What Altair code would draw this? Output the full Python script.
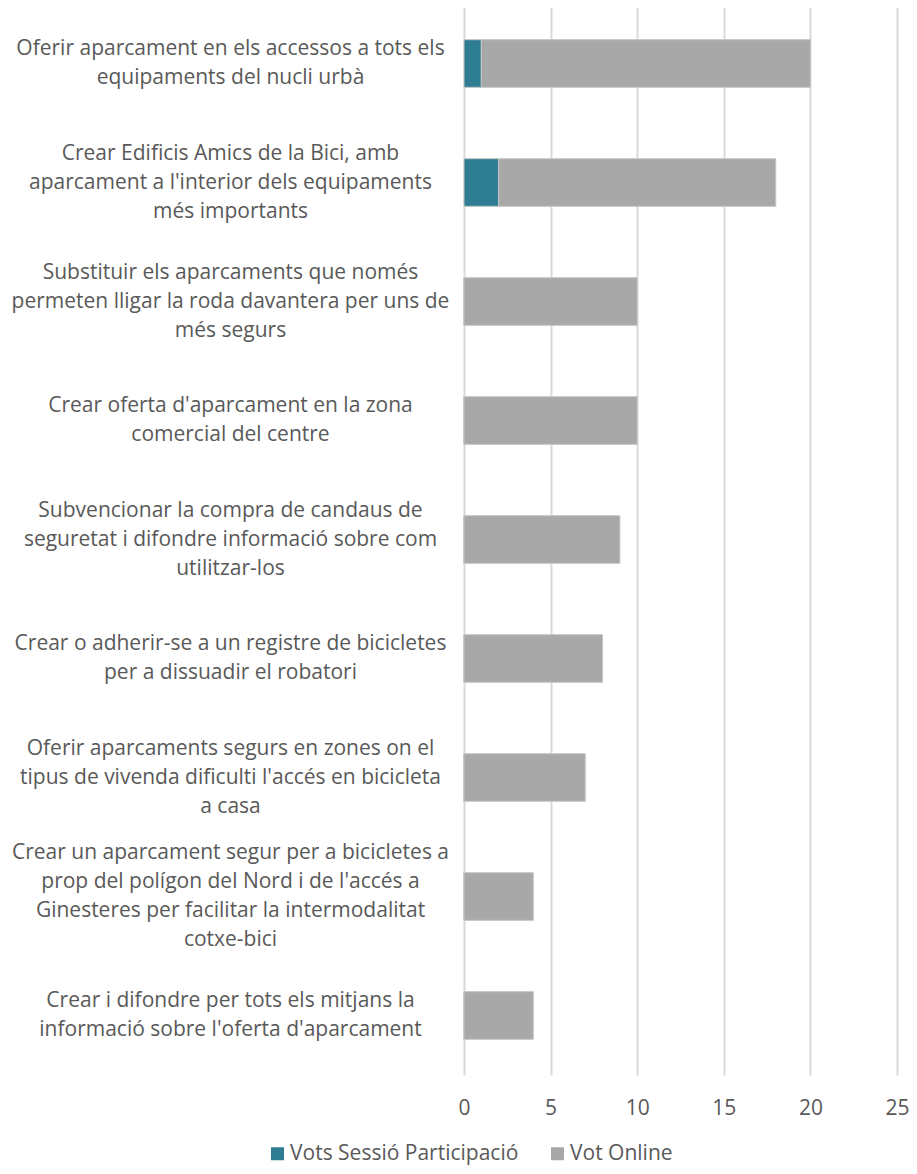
import altair as alt
import pandas as pd

categories = [
    "Oferir aparcament en els accessos a tots els|equipaments del nucli urbà",
    "Crear Edificis Amics de la Bici, amb|aparcament a l'interior dels equipaments|més importants",
    "Substituir els aparcaments que només|permeten lligar la roda davantera per uns de|més segurs",
    "Crear oferta d'aparcament en la zona|comercial del centre",
    "Subvencionar la compra de candaus de|seguretat i difondre informació sobre com|utilitzar-los",
    "Crear o adherir-se a un registre de bicicletes|per a dissuadir el robatori",
    "Oferir aparcaments segurs en zones on el|tipus de vivenda dificulti l'accés en bicicleta|a casa",
    "Crear un aparcament segur per a bicicletes a|prop del polígon del Nord i de l'accés a|Ginesteres per facilitar la intermodalitat|cotxe-bici",
    "Crear i difondre per tots els mitjans la|informació sobre l'oferta d'aparcament",
]
vots_sessio = [1, 2, 0, 0, 0, 0, 0, 0, 0]
vot_online = [19, 16, 10, 10, 9, 8, 7, 4, 4]
series = ["Vots Sessió Participació", "Vot Online"]
colors = ["#2E7D92", "#A8A8A8"]
x_ticks = [0, 5, 10, 15, 20, 25]

rows = []
for c, s, o in zip(categories, vots_sessio, vot_online):
    rows.append({"cat": c, "serie": series[0], "value": s, "ord": 0})
    rows.append({"cat": c, "serie": series[1], "value": o, "ord": 1})
df = pd.DataFrame(rows)

FONT = "Open Sans"
TXT = "#595959"
FS = 21
LH = 29
nlines = "length(split(datum.label, '|'))"

label_offset = {
    "condition": [
        {"test": f"{nlines} == 2", "value": -LH / 2},
        {"test": f"{nlines} == 3", "value": -LH},
        {"test": f"{nlines} == 4", "value": -1.5 * LH},
    ],
    "value": 0,
}

chart = alt.Chart(df).mark_bar(stroke="#C4C4C4", strokeWidth=1).encode(
    y=alt.Y("cat:N", sort=categories, title=None,
            scale=alt.Scale(paddingInner=0.6, paddingOuter=0.3),
            axis=alt.Axis(domain=False, ticks=False, tickSize=0, grid=False,
                          labelExpr="split(datum.label, '|')",
                          labelAlign="center", labelBaseline="middle",
                          labelOffset=label_offset,
                          labelPadding=234, labelLineHeight=LH,
                          labelFont=FONT, labelFontSize=FS, labelColor=TXT,
                          labelLimit=0)),
    x=alt.X("value:Q", stack="zero", title=None,
            scale=alt.Scale(domain=[0, 25], nice=False),
            axis=alt.Axis(values=x_ticks, domain=False, ticks=False,
                          tickSize=0, grid=True, gridColor="#D9D9D9", gridWidth=2,
                          labelFlush=False,
                          labelPadding=22, labelFont=FONT, labelFontSize=FS,
                          labelColor=TXT, labelBaseline="top")),
    color=alt.Color("serie:N", sort=series,
                    scale=alt.Scale(domain=series, range=colors),
                    legend=alt.Legend(title=None, orient="none", direction="horizontal",
                                      legendX=-197, legendY=1139,
                                      symbolType="square", symbolSize=169,
                                      symbolStrokeWidth=0, labelLimit=0,
                                      labelFont=FONT, labelFontSize=FS, labelColor=TXT,
                                      columnPadding=28, labelOffset=2)),
    order=alt.Order("ord:Q"),
).properties(
    width=433, height=1071,
    autosize=alt.AutoSizeParams(type="none"),
    padding={"left": 456, "top": -4, "right": 12, "bottom": 91},
).configure_view(stroke=None)

chart.save("out.html", embed_options={"renderer": "svg", "actions": False})
